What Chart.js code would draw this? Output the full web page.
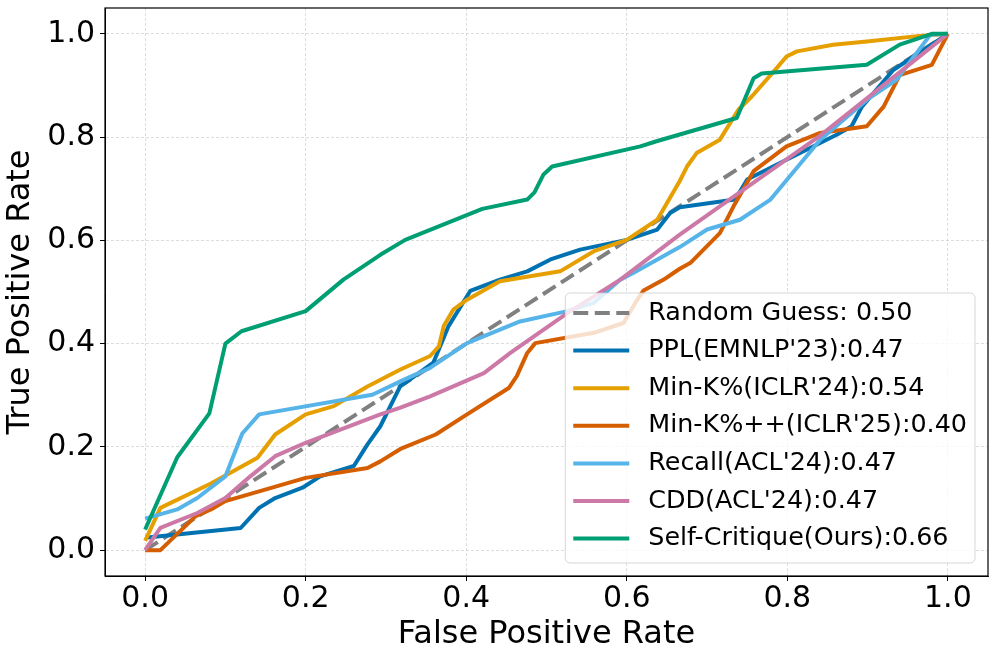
<!DOCTYPE html>
<html>
<head>
<meta charset="utf-8">
<title>ROC curves</title>
<script src="https://cdn.jsdelivr.net/npm/chart.js@4.4.1/dist/chart.umd.min.js"></script>
<style>
  html, body { margin: 0; padding: 0; background: #fff; }
  #wrap { width: 997px; height: 661px; position: relative; }
</style>
</head>
<body>
<div id="wrap"><canvas id="roc"></canvas></div>
<script>
const FONT = "'DejaVu Sans', sans-serif";

const seriesNames = [
  "Random Guess: 0.50",
  "PPL(EMNLP'23):0.47",
  "Min-K%(ICLR'24):0.54",
  "Min-K%++(ICLR'25):0.40",
  "Recall(ACL'24):0.47",
  "CDD(ACL'24):0.47",
  "Self-Critique(Ours):0.66",
];
const seriesColors = ["#808080", "#0072B2", "#E69F00", "#D55E00", "#56B4E9", "#CC79A7", "#009E73"];

const tickValues = [0, 0.2, 0.4, 0.6, 0.8, 1.0];

// false positive rate / true positive rate
const randomFpr = [0, 1];
const randomTpr = [0, 1];

const pplFpr = [0, 0.119, 0.142, 0.162, 0.196, 0.218, 0.26, 0.277, 0.293, 0.318, 0.324, 0.359, 0.378, 0.405, 0.442, 0.476, 0.505, 0.542, 0.6, 0.638, 0.654, 0.666, 0.735, 0.75, 0.799, 0.862, 0.88, 0.893, 0.932, 1];
const pplTpr = [0.024, 0.043, 0.082, 0.101, 0.121, 0.143, 0.163, 0.205, 0.24, 0.318, 0.324, 0.363, 0.434, 0.502, 0.524, 0.54, 0.563, 0.582, 0.601, 0.621, 0.653, 0.664, 0.679, 0.718, 0.756, 0.805, 0.821, 0.859, 0.93, 1];

const minkFpr = [0, 0.019, 0.082, 0.14, 0.162, 0.2, 0.235, 0.277, 0.318, 0.355, 0.366, 0.372, 0.384, 0.401, 0.442, 0.517, 0.559, 0.6, 0.638, 0.666, 0.675, 0.687, 0.716, 0.739, 0.756, 0.787, 0.799, 0.812, 0.857, 0.899, 0.965, 1];
const minkTpr = [0.018, 0.082, 0.129, 0.179, 0.224, 0.263, 0.279, 0.317, 0.35, 0.376, 0.395, 0.434, 0.466, 0.485, 0.521, 0.54, 0.579, 0.601, 0.64, 0.715, 0.743, 0.769, 0.795, 0.853, 0.879, 0.934, 0.956, 0.966, 0.979, 0.985, 0.996, 1];

const minkppFpr = [0, 0.019, 0.063, 0.082, 0.1, 0.2, 0.277, 0.293, 0.318, 0.362, 0.401, 0.453, 0.463, 0.476, 0.486, 0.559, 0.596, 0.613, 0.621, 0.646, 0.666, 0.679, 0.716, 0.733, 0.758, 0.799, 0.841, 0.899, 0.92, 0.94, 0.98, 1];
const minkppTpr = [0, 0, 0.066, 0.079, 0.095, 0.14, 0.159, 0.172, 0.196, 0.224, 0.263, 0.314, 0.337, 0.382, 0.401, 0.421, 0.44, 0.485, 0.503, 0.524, 0.545, 0.556, 0.614, 0.666, 0.734, 0.782, 0.808, 0.821, 0.859, 0.92, 0.94, 1];

const recallFpr = [0, 0.04, 0.065, 0.1, 0.121, 0.142, 0.283, 0.318, 0.355, 0.401, 0.467, 0.526, 0.559, 0.592, 0.608, 0.666, 0.7, 0.741, 0.779, 0.841, 0.899, 0.936, 0.978, 1];
const recallTpr = [0.061, 0.079, 0.101, 0.143, 0.226, 0.263, 0.301, 0.327, 0.353, 0.401, 0.443, 0.463, 0.479, 0.524, 0.537, 0.587, 0.621, 0.64, 0.679, 0.795, 0.872, 0.911, 0.998, 1];

const cddFpr = [0, 0.019, 0.065, 0.1, 0.131, 0.162, 0.2, 0.293, 0.318, 0.355, 0.422, 0.455, 0.488, 0.526, 0.592, 0.666, 0.841, 1];
const cddTpr = [0, 0.043, 0.072, 0.101, 0.143, 0.182, 0.208, 0.263, 0.276, 0.298, 0.343, 0.382, 0.418, 0.459, 0.524, 0.611, 0.803, 1];

const selfFpr = [0, 0.04, 0.08, 0.1, 0.12, 0.2, 0.247, 0.293, 0.324, 0.42, 0.476, 0.485, 0.496, 0.507, 0.617, 0.637, 0.666, 0.737, 0.758, 0.768, 0.899, 0.94, 0.98, 1];
const selfTpr = [0.04, 0.18, 0.265, 0.4, 0.424, 0.463, 0.524, 0.572, 0.601, 0.661, 0.679, 0.693, 0.727, 0.743, 0.782, 0.792, 0.805, 0.837, 0.914, 0.923, 0.94, 0.979, 1.0, 1];

const fprs = [randomFpr, pplFpr, minkFpr, minkppFpr, recallFpr, cddFpr, selfFpr];
const tprs = [randomTpr, pplTpr, minkTpr, minkppTpr, recallTpr, cddTpr, selfTpr];

function toPoints(xs, ys) {
  return xs.map((x, i) => ({ x: x, y: ys[i] }));
}

const datasets = seriesNames.map((name, i) => ({
  label: name,
  data: toPoints(fprs[i], tprs[i]),
  borderColor: seriesColors[i],
  backgroundColor: seriesColors[i],
  borderWidth: 4,
  borderDash: i === 0 ? [15, 6.5] : [],
  borderJoinStyle: "round",
  pointRadius: 0,
  tension: 0,
  fill: false,
  order: seriesNames.length - 1 - i,
}));

// box round the plot, like the matplotlib spines
const frame = {
  id: "frame",
  afterDatasetsDraw(chart) {
    const a = chart.chartArea;
    const ctx = chart.ctx;
    ctx.save();
    ctx.strokeStyle = "#000";
    ctx.lineWidth = 1.2;
    ctx.strokeRect(a.left, a.top, a.right - a.left, a.bottom - a.top);
    ctx.restore();
  },
};

// legend in the lower right corner, inside the plot
const boxLegend = {
  id: "boxLegend",
  afterDatasetsDraw(chart) {
    const ctx = chart.ctx;
    const a = chart.chartArea;
    const sets = chart.data.datasets;
    ctx.save();
    ctx.font = "25.4px " + FONT;
    let textW = 0;
    sets.forEach((ds) => {
      textW = Math.max(textW, ctx.measureText(ds.label).width);
    });
    const w = 83 + textW + 8;
    const h = 270;
    const left = a.right - 13 - w;
    const top = a.bottom - 13 - h;
    ctx.beginPath();
    ctx.roundRect(left, top, w, h, 5);
    ctx.fillStyle = "rgba(255,255,255,0.8)";
    ctx.fill();
    ctx.strokeStyle = "rgba(204,204,204,0.8)";
    ctx.lineWidth = 1;
    ctx.stroke();
    sets.forEach((ds, i) => {
      const y = top + 20 + i * 37.6;
      ctx.beginPath();
      ctx.setLineDash(ds.borderDash);
      ctx.strokeStyle = ds.borderColor;
      ctx.lineWidth = ds.borderWidth;
      ctx.moveTo(left + 8, y);
      ctx.lineTo(left + 64, y);
      ctx.stroke();
      ctx.setLineDash([]);
      ctx.fillStyle = "#000";
      ctx.textBaseline = "middle";
      ctx.textAlign = "left";
      ctx.fillText(ds.label, left + 83, y);
    });
    ctx.restore();
  },
};

function axisOptions(title, isX) {
  return {
    type: "linear",
    min: -0.05,
    max: 1.05,
    afterBuildTicks: (s) => {
      s.ticks = tickValues.map((v) => ({ value: v }));
    },
    afterFit: (s) => {
      if (isX) s.height = 85;
      else s.width = 105;
      // labels never reach the plot edges, so no extra room is needed
      s.paddingTop = 0;
      s.paddingBottom = 0;
      s.paddingLeft = 0;
      s.paddingRight = 0;
    },
    ticks: {
      font: { family: FONT, size: 30 },
      color: "#000",
      padding: isX ? 0 : 5,
      maxRotation: 0,
      autoSkip: false,
      callback: (v) => Number(v).toFixed(1),
    },
    grid: {
      color: "rgba(176,176,176,0.55)",
      lineWidth: 0.8,
      tickLength: 5,
      tickColor: "#000",
      tickWidth: 1,
    },
    border: { display: true, color: "#000", width: 1, dash: [3, 2] },
    title: {
      display: true,
      text: title,
      color: "#000",
      font: { family: FONT, size: 32 },
      padding: isX ? { top: 0, bottom: 7 } : { top: 1, bottom: 0 },
    },
  };
}

new Chart(document.getElementById("roc"), {
  type: "line",
  data: { datasets: datasets },
  options: {
    responsive: true,
    maintainAspectRatio: false,
    animation: false,
    layout: { padding: { top: 8, right: 9, left: 0, bottom: 0 } },
    scales: {
      x: axisOptions("False Positive Rate", true),
      y: axisOptions("True Positive Rate", false),
    },
    plugins: {
      legend: { display: false },
      tooltip: { enabled: false },
    },
  },
  plugins: [frame, boxLegend],
});
</script>
</body>
</html>
